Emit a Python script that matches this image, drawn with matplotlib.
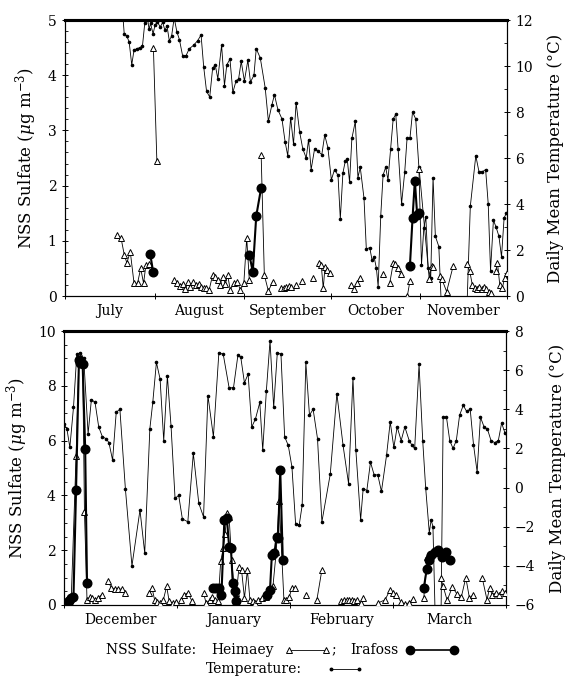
import numpy as np
import matplotlib
matplotlib.use("Agg")
import matplotlib.pyplot as plt
from matplotlib.lines import Line2D
from matplotlib.ticker import MultipleLocator, FixedLocator, NullFormatter, FixedFormatter

plt.rcParams['font.family'] = ['DejaVu Serif']
plt.rcParams['mathtext.fontset'] = 'dejavuserif'

nan = np.nan

# ---------------- Top panel (July - November), day 0 = 1 July ----------------
top_months = ["July", "August", "September", "October", "November"]
top_month_starts = [0, 31, 62, 92, 123, 153]

top_temp_day = [19.9, 20.5, 21.4, 22.2, 23.1, 23.9, 24.9, 26.0, 26.8, 27.6, 28.3, 29.1, 29.6, 30.5,
                31.2, 32.0, 33.0, 33.8, 34.6, 35.3, 36.1, 36.9, 37.8, 38.7, 39.6, 40.7, 41.9, 43.0,
                44.5, 45.9, 47.1, 48.0, 49.0, 50.1, 51.1, 52.0, 52.9, 54.2, 55.2, 56.0, 57.1, 58.1,
                59.2, 60.1, 61.0, 62.1, 63.3, 64.2, 65.4, 66.2, 67.6, 69.3, 70.4, 71.6, 72.5, 73.7,
                75.1, 76.2, 77.1, 78.1, 79.1, 80.0, 81.2, 82.3, 83.5, 84.3, 85.2, 86.4, 87.5, 88.9,
                89.9, 91.0, 92.2, 93.3, 94.5, 95.3, 96.2, 97.0, 97.7, 98.5, 99.3, 100.5, 101.4, 102.2,
                103.5, 104.3, 105.5, 106.3, 107.0, 107.8, 108.4, 109.3, 110.1, 111.0, 111.8, 112.7,
                113.6, 114.5, 115.3, 116.5, 117.6, 118.4, 119.4, 120.3, 121.4, 122.5, 123.4, 124.2,
                124.9, 125.7, 126.6, 127.4, 128.2, 129.4, 130.4, 131.5, 133.0, 134.5, 136.0, 137.5,
                139.0, 140.3, 142.2, 143.3, 144.5, 145.6, 146.5, 147.3, 148.3, 149.2, 150.2, 151.1,
                152.0, 152.8]
top_temp_val = [12.4, 11.4, 11.3, 11.05, 10.05, 10.7, 10.75, 10.8, 10.85, 11.85, 12.3, 11.6, 11.85, 11.4,
                11.8, 11.9, 11.7, 11.9, 11.55, 11.75, 11.1, 11.3, 12.1, 11.5, 11.15, 10.45, 10.45, 10.75,
                10.9, 11.1, 11.35, 9.97, 8.9, 8.65, 9.9, 10.05, 9.45, 10.9, 9.15, 10.05, 10.3, 8.85,
                9.35, 9.45, 10.2, 9.35, 10.25, 9.3, 9.6, 10.75, 10.35, 9.05, 7.6, 8.3, 8.75, 8.1,
                7.7, 6.7, 6.1, 7.75, 6.6, 8.4, 7.15, 6.4, 6.0, 6.8, 5.5, 6.4, 6.3, 6.15,
                7.0, 6.45, 5.05, 5.5, 5.25, 3.35, 5.35, 5.85, 5.95, 4.95, 6.85, 7.6, 5.15, 5.6,
                4.25, 2.05, 2.1, 1.55, 1.7, 1.2, 0.4, 3.5, 5.25, 5.6, 5.05, 6.4,
                7.7, 7.9, 6.4, 4.0, 5.4, 6.85, 6.85, 8.0, 7.7, 5.6, 1.35, 2.95,
                3.45, 1.2, 0.8, 5.15, 2.6, 2.15, -0.8, -2.0, -1.5, -2.5, -1.8, -2.2,
                -1.0, 3.9, 6.1, 5.4, 5.4, 5.5, 4.0, 1.1, 3.3, 3.0, 2.6, 1.7,
                3.4, 3.6]

top_heim_day = [18.1, 19.4, 20.5, 21.4, 22.6, 23.9, 25.1, 26.2, 27.2, 28.0, 29.2, 29.9, 30.6, 31.8, 34.0,
                37.8, 38.9, 39.8, 40.7, 41.6, 42.5, 43.4, 44.4, 45.3, 46.3, 47.2, 48.1, 48.9, 49.9,
                51.1, 52.0, 52.8, 53.6, 54.6, 55.5, 56.3, 57.2, 58.4, 59.6, 60.7, 61.9, 62.9, 63.8,
                65.5, 67.9, 69.0, 70.4, 71.9, 73.5, 74.8, 75.8, 76.6, 77.4, 78.3, 79.2, 80.0, 81.0,
                82.0, 84.0, 86.0, 87.0, 87.9, 88.7, 89.4, 90.0, 90.8, 91.6, 95.0,
                99.1, 100.0, 101.1, 102.0, 106.0, 110.1, 111.2, 112.4, 113.6, 114.4, 115.3, 116.2, 117.4,
                118.5, 119.4, 121.0, 122.6, 126.1, 126.9, 127.4, 128.6, 129.8, 130.5, 132.1, 134.4, 137.0,
                139.0, 140.1, 141.0, 141.8, 142.6, 143.4, 144.2, 145.0, 145.8, 146.8, 147.6, 148.4,
                149.1, 149.7, 150.5, 151.4, 152.2, 153.0]
top_heim_val = [1.1, 1.05, 0.75, 0.6, 0.8, 0.23, 0.23, 0.5, 0.23, 0.56, 0.58, nan, 4.5, 2.44, nan,
                0.29, 0.23, 0.18, 0.22, 0.13, 0.25, 0.16, 0.25, 0.2, 0.22, 0.16, 0.14, 0.14, 0.11,
                0.38, 0.35, 0.29, 0.2, 0.35, 0.22, 0.38, 0.11, 0.23, 0.26, 0.11, 0.23, 1.05, 0.29,
                nan, 2.56, 0.38, 0.09, 0.26, nan, 0.14, 0.14, 0.16, 0.18, 0.16, nan, 0.2, nan,
                0.27, nan, 0.32, nan, 0.59, 0.56, 0.14, 0.53, 0.47, 0.41, nan,
                0.2, 0.12, 0.23, 0.33, nan, 0.4, nan, 0.23, 0.59, 0.58, 0.5, 0.39, nan,
                0.0, 0.27, nan, 2.3, 0.3, 0.55, 0.52, nan, 0.36, 0.3, 0.08, 0.55, nan,
                0.58, 0.45, 0.2, 0.15, 0.13, 0.16, 0.13, 0.16, 0.12, 0.08, 0.06, nan,
                0.45, 0.6, 0.2, 0.15, 0.33, 0.42]

top_ira_day = [29.5, 30.5, 45.0, 63.8, 65.0, 66.2, 67.9, 90.0, 119.4, 120.3, 121.1, 121.9, 122.6]
top_ira_val = [0.76, 0.44, nan, 0.75, 0.44, 1.45, 1.96, nan, 0.55, 1.41, 2.09, 1.47, 1.51]

# ---------------- Bottom panel (December - March), day 0 = 1 December ----------------
bot_months = ["December", "January", "February", "March"]
bot_month_starts = [0, 31, 62, 90, 121]

bot_temp_day = [0.0, 0.8, 1.6, 2.6, 3.5, 4.5, 5.4, 6.6, 7.5, 8.5, 9.5, 10.5, 11.5, 12.3, 13.3, 14.3,
                15.3, 16.8, 18.6, 20.8, 22.1, 23.5, 24.3, 25.3, 26.3, 27.3, 28.3, 29.3, 30.4, 31.4,
                32.4, 33.9, 35.4, 36.9, 38.2, 39.4, 40.9, 42.4, 43.6, 45.2, 46.4, 47.6, 48.4, 49.4,
                50.4, 51.4, 52.4, 53.6, 54.4, 55.4, 56.4, 57.4, 58.4, 59.4, 60.4, 61.4, 62.4, 63.4,
                64.4, 65.2, 66.2, 67.2, 68.2, 69.4, 70.6, 72.9, 74.7, 76.4, 77.9, 79.1, 79.9, 81.2,
                81.9, 82.9, 83.9, 84.9, 85.9, 86.9, 88.3, 89.3, 90.3, 91.2, 92.3, 93.3, 94.5, 95.3,
                96.0, 97.2, 98.2, 99.0, 100.0, 100.5, 101.0, 101.6, 102.5, 103.2, 103.8, 104.7, 105.6,
                106.5, 107.4, 108.3, 109.3, 110.2, 111.2, 112.1, 113.1, 114.0, 115.0, 115.9, 116.9,
                117.9, 118.9, 119.8, 120.7]
bot_temp_val = [3.25, 3.0, 2.05, 4.1, 6.8, 6.9, 6.6, 2.75, 4.5, 4.35, 3.1, 2.6, 2.5, 2.3, 1.4, 3.85,
                4.0, -0.05, -4.0, -1.15, -3.35, 3.0, 4.35, 6.4, 5.55, 2.4, 5.7, 3.15, -0.55, -0.4,
                -1.6, -1.75, 1.75, -0.8, -1.5, 4.7, 2.6, 6.9, 6.8, 5.1, 5.1, 6.75, 6.65, 5.35,
                5.8, 3.1, 3.5, 4.35, 1.9, 4.95, 7.5, 4.1, 6.9, 6.8, 2.6, 2.15, 1.05, -1.85,
                -1.9, -0.9, 6.4, 3.7, 4.0, 2.5, -1.75, 0.7, 4.8, 2.15, 0.2, 5.6, 1.9, -1.65,
                -0.05, -0.15, 1.3, 0.65, 0.65, -0.2, 1.65, 3.35, 2.05, 3.1, 2.4, 3.1, 2.4, 2.15,
                2.0, 6.3, 2.4, 0.0, -2.3, -1.65, -2.0, -6.5, -7.0, -6.8, 3.6, 3.6, 2.4,
                2.0, 2.4, 3.7, 4.2, 3.9, 4.0, 2.2, 0.8, 3.6, 3.1, 3.0, 2.4,
                2.3, 2.4, 3.3, 2.8]

bot_heim_day = [0.0, 0.6, 1.3, 2.0, 3.3, 4.1, 4.5, 5.1, 5.6, 6.3, 7.1, 7.8, 8.6, 9.3, 10.3, 11.2,
                12.1, 13.0, 13.9, 14.8, 15.8, 16.8, 20.0,
                23.3, 24.1, 24.8, 25.5, 26.3, 27.2, 28.1, 28.8, 29.9, 30.6, 31.4,
                32.1, 32.9, 33.9, 35.1, 36.5,
                38.2, 38.9, 39.9, 40.6, 41.4, 42.2, 42.9, 43.6, 44.1, 44.6, 45.2, 45.9, 46.6, 47.2,
                47.9, 48.6, 49.4, 50.2, 50.9, 51.7, 52.4, 53.2, 54.2, 55.4, 56.4, 57.2, 58.1, 58.9,
                60.2, 60.9, 61.7, 62.4, 63.2, 64.5, 66.2, 67.5, 69.2, 70.6, 73.0,
                75.9, 76.6, 77.4, 78.1, 78.8, 79.5, 80.3, 81.2, 81.9, 84.0,
                85.9, 87.9, 89.3, 90.0, 91.0, 92.3, 93.3, 94.5, 95.5, 97.0,
                98.5, 99.3, 101.0, 103.1, 103.8, 104.9, 106.3, 107.6, 108.8, 110.0, 111.0, 112.0, 113.2,
                114.5, 115.8, 116.5, 117.2, 118.2, 119.0, 120.0, 120.8]
bot_heim_val = [0.07, 0.19, 0.15, 0.31, 5.42, 9.1, 9.05, 8.95, 3.4, 0.17, 0.31, 0.25, 0.19, 0.25, 0.38, nan,
                0.86, 0.62, 0.6, 0.58, 0.58, 0.44, nan,
                0.44, 0.62, 0.19, 0.1, 0.07, 0.19, 0.68, 0.13, 0.07, 0.1, nan,
                0.19, 0.38, 0.44, 0.13, nan,
                0.44, 0.07, 0.17, 0.31, 0.17, 0.13, 1.59, 2.07, 2.6, 3.34, 3.2, 1.65, 0.56, 0.44,
                1.37, 1.28, 0.25, 1.28, 0.19, 0.13, 0.07, 0.19, 0.25, 0.31, 0.62, 0.68, 1.95, 3.8,
                0.19, 0.19, 0.31, 0.62, 0.62, nan, 0.38, nan, 0.17, 1.28, nan,
                0.13, 0.17, 0.19, 0.17, 0.19, 0.13, 0.19, 0.07, 0.25, nan,
                0.07, 0.19, 0.56, 0.44, 0.38, 0.1, 0.05, 0.07, 0.22, nan,
                0.25, 1.75, nan, 1.0, 0.68, 0.17, 0.65, 0.4, 0.31, 1.0, 0.25, 0.38, nan,
                0.98, 0.19, 0.62, 0.38, 0.44, 0.38, 0.5, 0.45]

bot_ira_day = [0.6, 1.3, 2.0, 2.6, 3.3, 4.1, 4.5, 5.1, 5.8, 6.3, 20.0,
               40.7, 41.6, 42.4, 43.1, 43.9, 44.6, 45.2, 45.7, 46.2, 46.7, 47.2, 50.0,
               55.7, 56.4, 56.9, 57.6, 58.2, 58.6, 59.2, 59.9, 80.0,
               98.5, 99.3, 99.8, 100.5, 101.5, 102.5, 103.5, 104.5, 105.6]
bot_ira_val = [0.07, 0.13, 0.25, 0.31, 4.21, 8.95, 8.85, 8.8, 5.7, 0.8, nan,
               0.62, 0.62, 0.62, 0.38, 3.1, 3.16, 2.13, 2.07, 0.8, 0.5, 0.13, nan,
               0.38, 0.56, 1.83, 1.89, 2.49, 2.45, 4.92, 1.65, nan,
               0.62, 1.31, 1.65, 1.83, 1.95, 1.99, 1.77, 1.95, 1.65]

W, H = 572, 679
fig = plt.figure(figsize=(W / 100, H / 100), dpi=100)

def px_axes(l, t, r, b):
    return fig.add_axes([l / W, 1 - b / H, (r - l) / W, (b - t) / H])

FS = 10

def panel(rect, month_starts, months, s_lim, s_major, s_minor, t_lim, t_major, t_minor,
          tday, tval, hday, hval, iday, ival):
    ax = px_axes(*rect)
    ax2 = ax.twinx()
    ax.set_zorder(ax2.get_zorder() + 1)
    ax.patch.set_visible(False)

    ax2.plot(tday, tval, color='black', lw=0.6, marker='o', ms=1.6, mec='black', mfc='black',
             zorder=2)
    ax.plot(hday, hval, color='black', lw=0.6, marker='^', ms=4.8, mfc='white', mec='black',
            mew=0.7, zorder=3)
    ax.plot(iday, ival, color='black', lw=1.5, marker='o', ms=6.2, mfc='black', mec='black',
            zorder=4)

    ax.set_xlim(month_starts[0], month_starts[-1])
    ax.set_ylim(*s_lim)
    ax2.set_ylim(*t_lim)

    ax.xaxis.set_major_locator(FixedLocator(month_starts))
    ax.xaxis.set_major_formatter(NullFormatter())
    mids = [(a + b) / 2 for a, b in zip(month_starts[:-1], month_starts[1:])]
    ax.xaxis.set_minor_locator(FixedLocator(mids))
    ax.xaxis.set_minor_formatter(FixedFormatter(months))
    ax.tick_params(axis='x', which='major', direction='inout', length=5, width=0.7)
    ax.tick_params(axis='x', which='minor', length=0, labelsize=FS, pad=6)

    ax.yaxis.set_major_locator(MultipleLocator(s_major))
    ax.yaxis.set_minor_locator(MultipleLocator(s_minor))
    ax.tick_params(axis='y', which='major', direction='inout', length=5, width=0.7, labelsize=FS)
    ax.tick_params(axis='y', which='minor', direction='in', length=2.5, width=0.6)

    ax2.yaxis.set_major_locator(MultipleLocator(t_major))
    ax2.yaxis.set_minor_locator(MultipleLocator(t_minor))
    ax2.tick_params(axis='y', which='major', direction='inout', length=5, width=0.7, labelsize=FS)
    ax2.tick_params(axis='y', which='minor', direction='in', length=2.5, width=0.6)

    for a in (ax, ax2):
        for side in ('left', 'right', 'bottom'):
            a.spines[side].set_linewidth(0.8)
        a.spines['top'].set_linewidth(2.2)

    ax.set_ylabel(r'NSS Sulfate ($\mu$g m$^{-3}$)', fontsize=12, labelpad=6)
    ax2.set_ylabel('Daily Mean Temperature (°C)', fontsize=12, labelpad=10)
    return ax, ax2

panel((65, 20, 507, 296), top_month_starts, top_months, (0, 5), 1, 0.2, (0, 12), 2, 1,
      top_temp_day, top_temp_val, top_heim_day, top_heim_val, top_ira_day, top_ira_val)
panel((64, 331, 506, 605), bot_month_starts, bot_months, (0, 10), 2, 0.5, (-6, 8), 2, 1,
      bot_temp_day, bot_temp_val, bot_heim_day, bot_heim_val, bot_ira_day, bot_ira_val)

# ---------------- legend text ----------------
def fx(x):
    return x / W

def fy(y):
    return 1 - y / H

y1, y2 = 650, 669
fig.text(fx(106), fy(y1), 'NSS Sulfate:', fontsize=FS, va='center', ha='left')
fig.text(fx(211), fy(y1), 'Heimaey', fontsize=FS, va='center', ha='left')
fig.add_artist(Line2D([fx(289), fx(326)], [fy(y1), fy(y1)], color='black', lw=0.6,
                      transform=fig.transFigure))
fig.add_artist(Line2D([fx(289), fx(326)], [fy(y1), fy(y1)], ls='none', marker='^', ms=4.8,
                      mfc='white', mec='black', mew=0.7, transform=fig.transFigure))
fig.text(fx(331), fy(y1), ';', fontsize=FS, va='center', ha='left')
fig.text(fx(350), fy(y1), 'Irafoss', fontsize=FS, va='center', ha='left')
fig.add_artist(Line2D([fx(410), fx(454)], [fy(y1), fy(y1)], color='black', lw=1.2,
                      marker='o', ms=6, mfc='black', mec='black', transform=fig.transFigure))
fig.text(fx(206), fy(y2), 'Temperature:', fontsize=FS, va='center', ha='left')
fig.add_artist(Line2D([fx(331), fx(359)], [fy(y2), fy(y2)], color='black', lw=0.6,
                      marker='o', ms=1.8, mfc='black', mec='black', transform=fig.transFigure))

fig.savefig('out.png', dpi=100)
